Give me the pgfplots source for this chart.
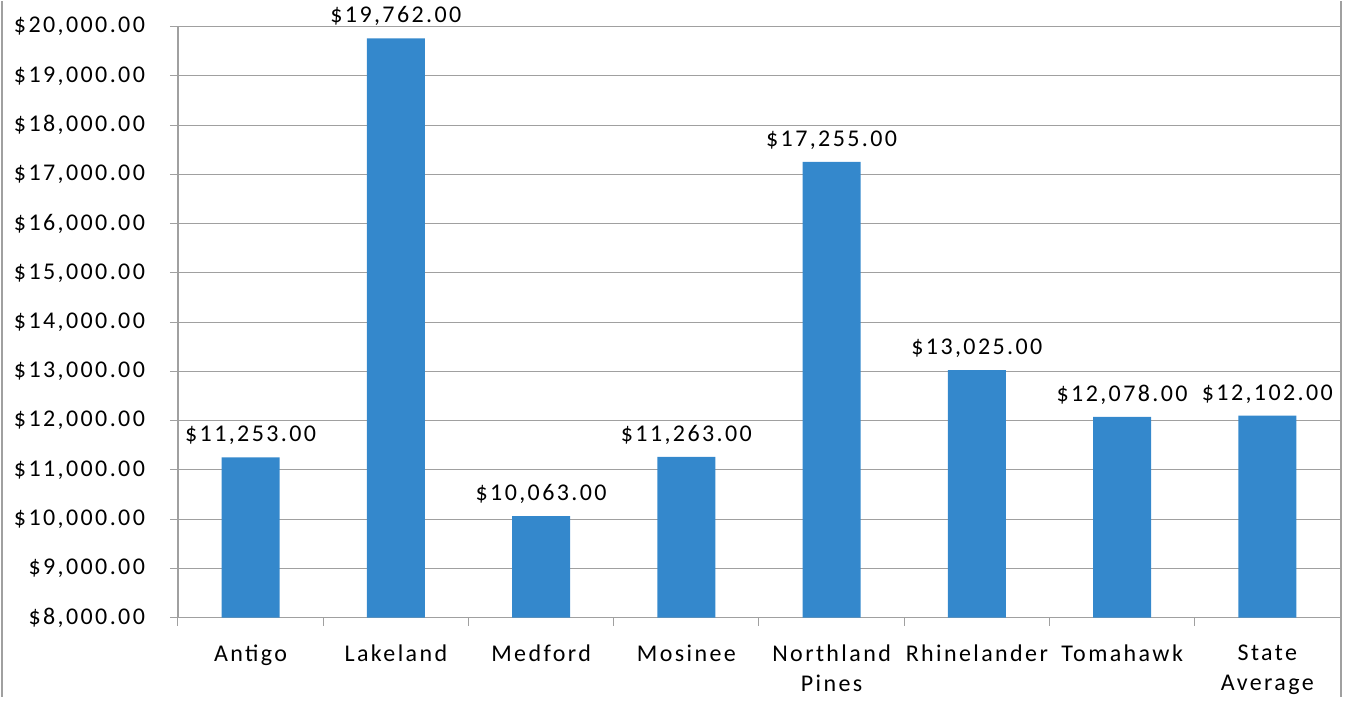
\documentclass[border=0pt]{standalone}
\usepackage{pgfplots}
\pgfplotsset{compat=1.18}
\usepackage{fontspec}
\setmainfont{Carlito}[LetterSpace=10]
\definecolor{barblue}{RGB}{52,136,204}
\definecolor{gridgray}{RGB}{160,160,160}
\begin{document}
\begin{tikzpicture}
\begin{axis}[
  scale only axis,
  width=581pt, height=295.5pt,
  xmin=-0.5, xmax=7.5, ymin=8000, ymax=20000,
  axis lines*=left,
  axis line style={gridgray, line width=0.6pt},
  ytick={8000,9000,...,20000},
  scaled y ticks=false,
  /pgf/number format/assume math mode=true,
  yticklabel={\$\pgfmathprintnumber[fixed,fixed zerofill,precision=2,1000 sep={,}]{\tick}},
  yticklabel style={font=\fontsize{12}{13.8}\selectfont, xshift=-9pt},
  ymajorgrids, grid style={gridgray, line width=0.5pt},
  tick align=outside,
  tick style={gridgray, line width=0.5pt},
  major tick length=4pt,
  xtick={-0.5,0.5,...,7.5},
  xticklabels={},
  extra x ticks={0,...,7},
  extra x tick labels={Antigo, Lakeland, Medford, Mosinee, {Northland\\Pines}, Rhinelander, Tomahawk, {State\\Average}},
  extra x tick style={tick style={draw=none}, grid=none,
    xticklabel style={align=center, font=\fontsize{12}{15}\selectfont, anchor=north, yshift=-6pt}},
  nodes near coords={\$\pgfmathprintnumber[fixed,fixed zerofill,precision=2,1000 sep={,}]{\pgfplotspointmeta}},
  nodes near coords style={font=\fontsize{12}{13.8}\selectfont, anchor=south, inner sep=0pt, yshift=6pt},
]
\addplot[ybar, bar width=29pt, fill=barblue, draw=none] coordinates {
  (0,11253) (1,19762) (2,10063) (3,11263) (4,17255) (5,13025) (6,12078) (7,12102)
};
\coordinate (O) at (rel axis cs:0,0);
\end{axis}
\draw[gridgray, line width=0.6pt] (O) ++(-88pt,-39.5pt) -- ++(0,348pt);
\draw[gridgray, line width=0.6pt] (O) ++(581.5pt,-39.5pt) -- ++(0,348pt);
\path[use as bounding box] (O) ++(-89pt,-39.5pt) rectangle ++(677pt,348pt);
\end{tikzpicture}
\end{document}
